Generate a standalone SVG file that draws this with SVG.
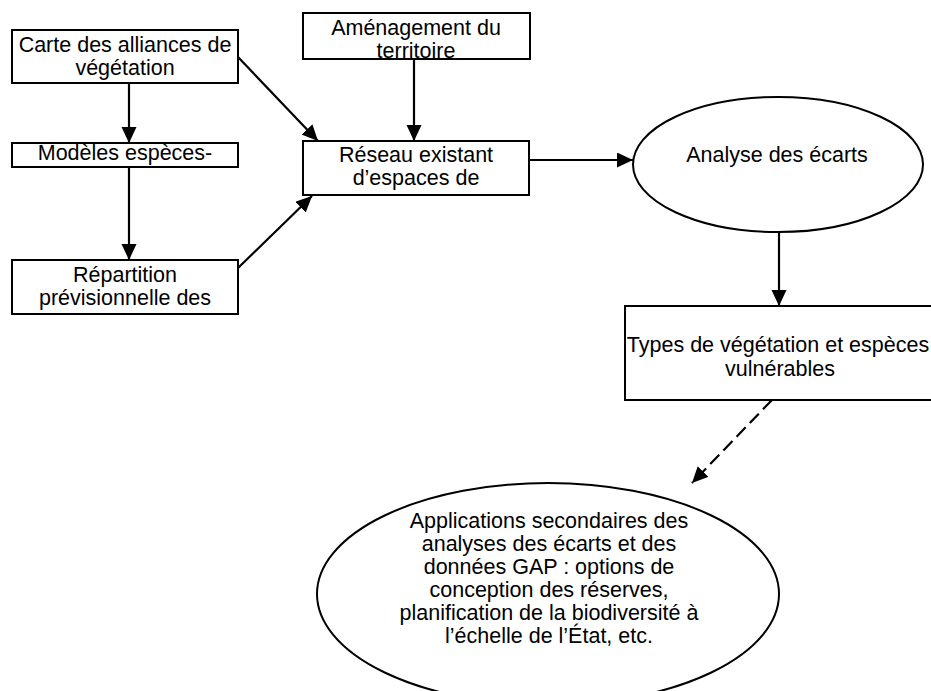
<svg xmlns="http://www.w3.org/2000/svg" width="931" height="691" viewBox="0 0 931 691">
<defs>
<marker id="ah" markerUnits="userSpaceOnUse" markerWidth="17" markerHeight="16" refX="16" refY="7.5" orient="auto">
<path d="M0,0 L16,7.5 L0,15 Z" fill="#000"/>
</marker>
<style>
.box{fill:#fff;stroke:#000;stroke-width:2}
.t{font-family:"Liberation Sans",Arial,sans-serif;font-size:21.5px;fill:#000;text-anchor:middle}
.c{fill:none;stroke:#000;stroke-width:2.2;marker-end:url(#ah)}
.d{stroke-dasharray:13 6}
</style>
</defs>
<rect width="931" height="691" fill="#fff"/>
<g id="connectors">
<line class="c" x1="129" y1="83" x2="129" y2="143"/>
<line class="c" x1="129" y1="167" x2="129" y2="260"/>
<line class="c" x1="238" y1="57" x2="318" y2="141"/>
<line class="c" x1="238" y1="268" x2="312" y2="196"/>
<line class="c" x1="414" y1="59" x2="414" y2="141"/>
<line class="c" x1="529" y1="160" x2="633" y2="160"/>
<line class="c" x1="779" y1="232" x2="779" y2="306"/>
<line class="c d" x1="772" y1="400" x2="692" y2="483"/>
</g>
<g id="carte">
<rect class="box" x="12" y="30" width="226" height="53"/>
<text class="t" x="125" y="52">Carte des alliances de</text>
<text class="t" x="125" y="75">végétation</text>
</g>
<g id="modeles">
<rect class="box" x="12" y="143" width="226" height="24"/>
<text class="t" x="125" y="160">Modèles espèces-</text>
</g>
<g id="repartition">
<rect class="box" x="12" y="260" width="226" height="54"/>
<text class="t" x="125" y="282">Répartition</text>
<text class="t" x="125" y="305">prévisionnelle des</text>
</g>
<g id="amenagement">
<rect class="box" x="303" y="13" width="227" height="46"/>
<text class="t" x="416" y="35">Aménagement du</text>
<text class="t" x="416" y="58">territoire</text>
</g>
<g id="reseau">
<rect class="box" x="303" y="141" width="226" height="54"/>
<text class="t" x="416" y="162">Réseau existant</text>
<text class="t" x="416" y="185">d’espaces de</text>
</g>
<g id="analyse">
<ellipse class="box" cx="778" cy="164.5" rx="145" ry="67.5"/>
<text class="t" x="777" y="162">Analyse des écarts</text>
</g>
<g id="types">
<rect class="box" x="625" y="306" width="320" height="94"/>
<text class="t" x="778" y="352">Types de végétation et espèces</text>
<text class="t" x="780" y="376">vulnérables</text>
</g>
<g id="applications">
<ellipse class="box" cx="548" cy="594" rx="231" ry="111"/>
<text class="t" x="549" y="528">Applications secondaires des</text>
<text class="t" x="549" y="551">analyses des écarts et des</text>
<text class="t" x="549" y="574">données GAP : options de</text>
<text class="t" x="549" y="597">conception des réserves,</text>
<text class="t" x="549" y="620">planification de la biodiversité à</text>
<text class="t" x="549" y="643">l’échelle de l’État, etc.</text>
</g>
</svg>
